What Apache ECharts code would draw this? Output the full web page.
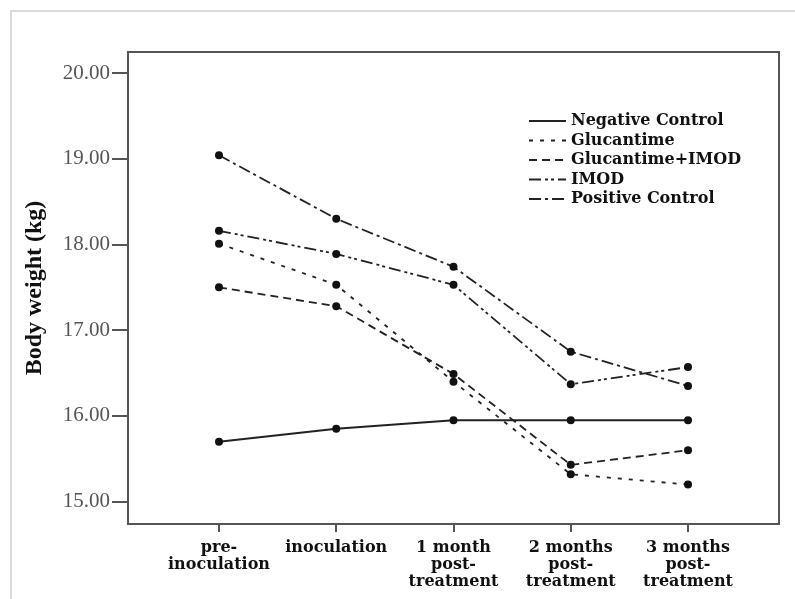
<!DOCTYPE html>
<html>
<head>
<meta charset="utf-8">
<script src="https://cdn.jsdelivr.net/npm/echarts@6/dist/echarts.min.js"></script>
<style>
html,body{margin:0;padding:0;background:#fff;}
#chart{width:795px;height:599px;}
</style>
</head>
<body>
<div id="chart"></div>
<script>
// Data
var categories = ['pre-\ninoculation', 'inoculation', '1 month\npost-\ntreatment', '2 months\npost-\ntreatment', '3 months\npost-\ntreatment'];
var seriesNames = ['Negative Control', 'Glucantime', 'Glucantime+IMOD', 'IMOD', 'Positive Control'];
var negativeControl = [15.70, 15.85, 15.95, 15.95, 15.95];
var glucantime      = [18.01, 17.53, 16.40, 15.32, 15.20];
var glucantimeIMOD  = [17.50, 17.28, 16.49, 15.43, 15.60];
var imod            = [18.16, 17.89, 17.53, 16.37, 16.57];
var positiveControl = [19.04, 18.30, 17.74, 16.75, 16.35];
var yTicks = [15, 16, 17, 18, 19, 20];

var values = [negativeControl, glucantime, glucantimeIMOD, imod, positiveControl];
var dashes = ['solid', [4, 7], [8, 5], [12, 4, 3, 3, 3, 4], [12, 4, 3, 4]];
var widths = [2, 1.8, 1.8, 1.8, 1.8];

var chart = echarts.init(document.getElementById('chart'), null, {renderer: 'canvas'});

var series = seriesNames.map(function (name, i) {
  return {
    name: name,
    type: 'line',
    data: values[i].map(function (v, j) { return [j, v]; }),
    symbol: 'circle',
    symbolSize: 8,
    itemStyle: {color: '#111'},
    lineStyle: {color: '#222', width: widths[i], type: dashes[i]},
    emphasis: {disabled: true},
    z: 3
  };
});

var option = {
  animation: false,
  backgroundColor: '#fff',
  graphic: [{
    type: 'rect',
    shape: {x: 11, y: 11, width: 800, height: 600},
    style: {fill: 'none', stroke: '#cfcfcf', lineWidth: 1.5},
    silent: true,
    z: -1
  }],
  grid: {
    left: 128, right: 16, top: 52, bottom: 75,
    show: true, borderColor: '#555', borderWidth: 2, backgroundColor: 'transparent'
  },
  legend: {
    orient: 'vertical',
    left: 523, top: 108,
    itemWidth: 37, itemHeight: 14, itemGap: 3.5,
    itemStyle: {opacity: 0},
    textStyle: {fontFamily: 'DejaVu Serif', fontWeight: 'bold', fontSize: 16, color: '#111', lineHeight: 16},
    data: seriesNames
  },
  xAxis: {
    type: 'value',
    min: -0.776, max: 4.776,
    splitLine: {show: false},
    axisLine: {show: true, onZero: false, lineStyle: {color: '#555', width: 2}},
    axisTick: {show: true, length: 8, customValues: [0, 1, 2, 3, 4], lineStyle: {color: '#555', width: 2}},
    axisLabel: {
      customValues: [0, 1, 2, 3, 4],
      formatter: function (v) { return categories[Math.round(v)]; },
      margin: 15,
      fontFamily: 'DejaVu Serif', fontWeight: 'bold', fontSize: 16, color: '#111', lineHeight: 17,
      align: 'center'
    }
  },
  yAxis: {
    type: 'value',
    min: 14.74, max: 20.245,
    name: 'Body weight (kg)',
    nameLocation: 'middle',
    nameGap: 81,
    nameTextStyle: {fontFamily: 'Liberation Serif', fontWeight: 'bold', fontSize: 24, color: '#111'},
    splitLine: {show: false},
    axisLine: {show: true, onZero: false, lineStyle: {color: '#555', width: 2}},
    axisTick: {show: true, length: 16, customValues: yTicks, lineStyle: {color: '#555', width: 2}},
    axisLabel: {
      customValues: yTicks,
      formatter: function (v) { return v.toFixed(2); },
      margin: 18,
      fontFamily: 'Liberation Serif', fontSize: 21, color: '#555'
    }
  },
  series: series
};
chart.setOption(option);
</script>
</body>
</html>
